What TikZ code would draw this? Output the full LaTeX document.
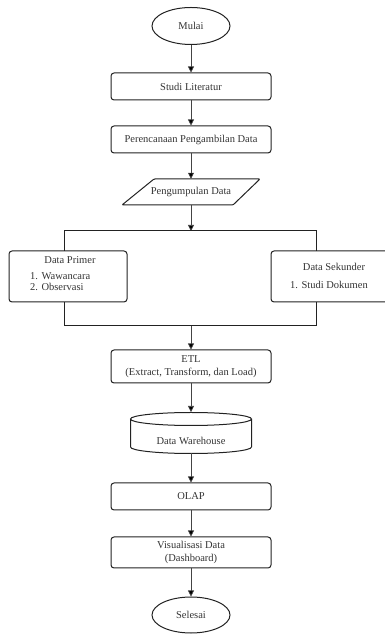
\documentclass[tikz,border=0pt]{standalone}
\usepackage{fontspec}
\setmainfont{Liberation Serif}
\usetikzlibrary{shapes.geometric,arrows.meta}
\definecolor{ln}{HTML}{222222}
\definecolor{tx}{HTML}{333333}
\definecolor{ar}{HTML}{444444}
\begin{document}
\begin{tikzpicture}[x=1pt,y=1pt,
  font=\fontsize{10.5}{13}\selectfont, text=tx,
  box/.style={draw=ln,line width=1pt,rounded corners=3pt,minimum width=160pt,inner sep=0pt,align=center},
  term/.style={draw=ln,line width=1pt,ellipse,minimum width=78pt,minimum height=37pt,inner sep=0pt},
  conn/.style={draw=ar,line width=0.7pt},
  arr/.style={conn,-{Triangle[length=6pt,width=6pt,fill=black]}}]
\useasboundingbox (0,0) rectangle (385,634);
\node[term] (mulai) at (191,608) {Mulai};
\node[box,minimum height=27pt] (studi) at (191,547.5) {Studi Literatur};
\node[box,minimum height=27pt] (renc) at (191,494.5) {Perencanaan Pengambilan Data};
% parallelogram
\draw[ln,line width=1pt,rounded corners=1pt] (154,455) -- (260,455) -- (233,429) -- (122,429) -- cycle;
\node[minimum height=26pt,inner sep=0pt] (peng) at (191,442) {Pengumpulan Data};
% split
\coordinate (split) at (191,403);
\coordinate (sl) at (64,403);
\coordinate (sr) at (316,403);
\node[box,minimum width=118pt,minimum height=51pt] (primer) at (68,357.5) {};
\node[anchor=base] (ptitle) at (70,370) {Data Primer};
\node[anchor=base west,inner sep=0pt] (p1) at (30,354) {1. Wawancara};
\node[anchor=base west,inner sep=0pt] (p2) at (30,343) {2. Observasi};
\node[box,minimum width=126pt,minimum height=51pt] (sekunder) at (334,357.5) {};
\node[anchor=base] (stitle) at (334,363) {Data Sekunder};
\node[anchor=base] (s1) at (329,345) {1. Studi Dokumen};
\coordinate (pt) at (64,383);
\coordinate (st) at (316,383);
\coordinate (pb) at (64,332);
\coordinate (sb) at (316,332);
\coordinate (jl) at (64,308);
\coordinate (jr) at (316,308);
\coordinate (join) at (191,308);
\node[box,minimum height=33pt] (etl) at (191,267.5) {ETL\\(Extract, Transform, dan Load)};
% cylinder
\draw[ln,line width=1pt] (130.5,215) -- (130.5,187) arc[start angle=180,end angle=360,x radius=60.5,y radius=6.5] -- (251.5,215);
\draw[ln,line width=1pt] (191,215) ellipse[x radius=60.5,y radius=6.5];
\node[inner sep=0pt] (dwt) at (191,193) {Data Warehouse};
\coordinate (dwtop) at (191,222);
\coordinate (dwbot) at (191,180.5);
\node[box,minimum height=27pt] (olap) at (191,137.5) {OLAP};
\node[box,minimum height=31pt] (vis) at (191,81.5) {Visualisasi Data\\(Dashboard)};
\node[term,minimum height=36pt] (selesai) at (191,19) {Selesai};
% connectors
\draw[arr] (mulai) -- (studi);
\draw[arr] (studi) -- (renc);
\draw[arr] (renc) -- (peng);
\draw[arr] (peng) -- (split);
\draw[ln,line width=1pt] (pt) -- (sl) -- (sr) -- (st);
\draw[ln,line width=1pt] (pb) -- (jl) -- (jr) -- (sb);
\draw[arr] (join) -- (etl);
\draw[arr] (etl) -- (dwtop);
\draw[arr] (dwbot) -- (olap);
\draw[arr] (olap) -- (vis);
\draw[arr] (vis) -- (selesai);
\end{tikzpicture}
\end{document}
